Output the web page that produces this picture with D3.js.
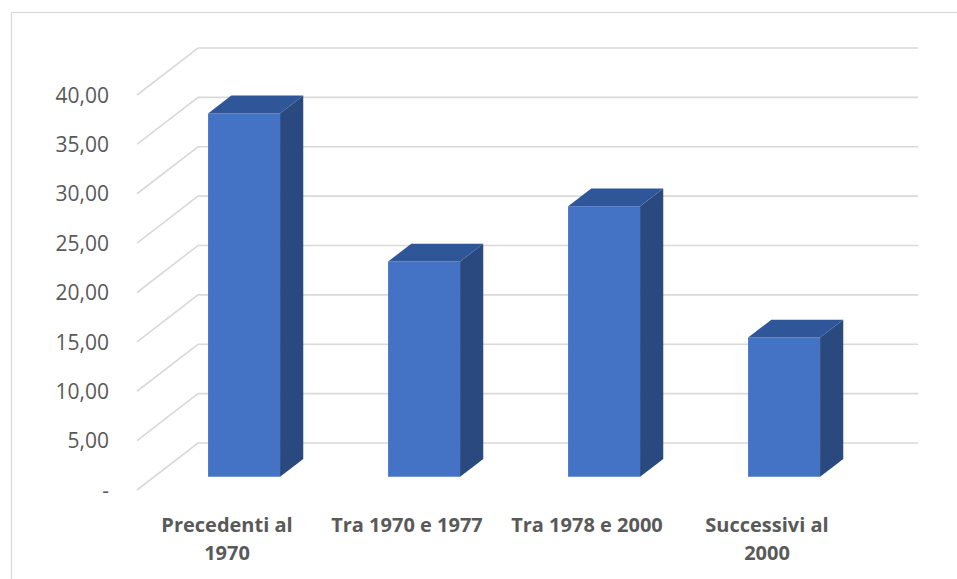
<!DOCTYPE html>
<html>
<head>
<meta charset="utf-8">
<script src="https://cdn.jsdelivr.net/npm/d3@7"></script>
<style>
  html, body { margin: 0; padding: 0; background: #fff; }
  svg { display: block; }
</style>
</head>
<body>
<div id="chart"></div>
<script>
// dati
const categories = [["Precedenti al", "1970"], ["Tra 1970 e 1977"], ["Tra 1978 e 2000"], ["Successivi al", "2000"]];
const values = [36.8, 21.8, 27.4, 14.1];
const yTicks = [0, 5, 10, 15, 20, 25, 30, 35, 40];
const yTickLabels = ["-", "5,00", "10,00", "15,00", "20,00", "25,00", "30,00", "35,00", "40,00"];

const W = 957, H = 579;
// profondità 3D: spostamento del piano posteriore
const depthX = 61, depthY = 47;
const barZ0 = 0.28, barZ1 = 0.66;

const svg = d3.select("#chart").append("svg")
    .attr("width", W)
    .attr("height", H);

// bordo del grafico
svg.append("rect")
    .attr("x", 11.5).attr("y", 12.5)
    .attr("width", 1000).attr("height", 700)
    .attr("fill", "none")
    .attr("stroke", "#d9d9d9")
    .attr("stroke-width", 1.2);

const keys = categories.map(c => c.join(" "));

const xScale = d3.scaleBand()
    .domain(keys)
    .range([137, 857]);

const yScale = d3.scaleLinear()
    .domain([0, 40])
    .range([490, 95]);

// proiezione: (categoria x, valore, profondità z) -> schermo
const proj = (x, v, z) => [x + z * depthX, yScale(v) - z * depthY];

// griglia (parete di fondo + lato sinistro)
const gridG = svg.append("g").attr("class", "grid");
yTicks.forEach(t => {
    const a = proj(xScale.range()[0], t, 0);
    const b = proj(xScale.range()[0], t, 1);
    const c = proj(xScale.range()[1], t, 1);
    gridG.append("polyline")
        .attr("points", [a, b, c].map(p => p.join(",")).join(" "))
        .attr("fill", "none")
        .attr("stroke", "#d9d9d9")
        .attr("stroke-width", 1.6);
});

// etichette asse y
svg.append("g").selectAll("text")
    .data(yTicks)
    .join("text")
    .attr("x", 109)
    .attr("y", d => yScale(d) + 2)
    .attr("text-anchor", "end")
    .attr("dominant-baseline", "middle")
    .attr("font-family", "'Open Sans', sans-serif")
    .attr("font-size", 21)
    .attr("fill", "#595959")
    .text((d, i) => yTickLabels[i]);

// barre 3D
const bw = xScale.bandwidth();
const barsG = svg.append("g").attr("class", "bars");
keys.forEach((k, i) => {
    const cx = xScale(k) + bw / 2;
    const x0 = cx - bw * 0.2, x1 = cx + bw * 0.2;
    const v = values[i];
    const g = barsG.append("g");
    const poly = (pts, fill) => g.append("polygon")
        .attr("points", pts.map(p => p.join(",")).join(" "))
        .attr("fill", fill);
    // fronte
    poly([proj(x0, 0, barZ0), proj(x1, 0, barZ0), proj(x1, v, barZ0), proj(x0, v, barZ0)], "#4472c4");
    // lato destro
    poly([proj(x1, 0, barZ0), proj(x1, 0, barZ1), proj(x1, v, barZ1), proj(x1, v, barZ0)], "#29497f");
    // sopra
    poly([proj(x0, v, barZ0), proj(x1, v, barZ0), proj(x1, v, barZ1), proj(x0, v, barZ1)], "#30569a");
});

// etichette categorie
const catG = svg.append("g");
categories.forEach((lines, i) => {
    const t = catG.append("text")
        .attr("x", xScale(keys[i]) + bw / 2)
        .attr("y", 532)
        .attr("text-anchor", "middle")
        .attr("font-family", "'Open Sans', sans-serif")
        .attr("font-weight", "bold")
        .attr("font-size", 20)
        .attr("fill", "#595959");
    lines.forEach((ln, j) => {
        t.append("tspan")
            .attr("x", xScale(keys[i]) + bw / 2)
            .attr("dy", j === 0 ? 0 : 28)
            .text(ln);
    });
});
</script>
</body>
</html>
